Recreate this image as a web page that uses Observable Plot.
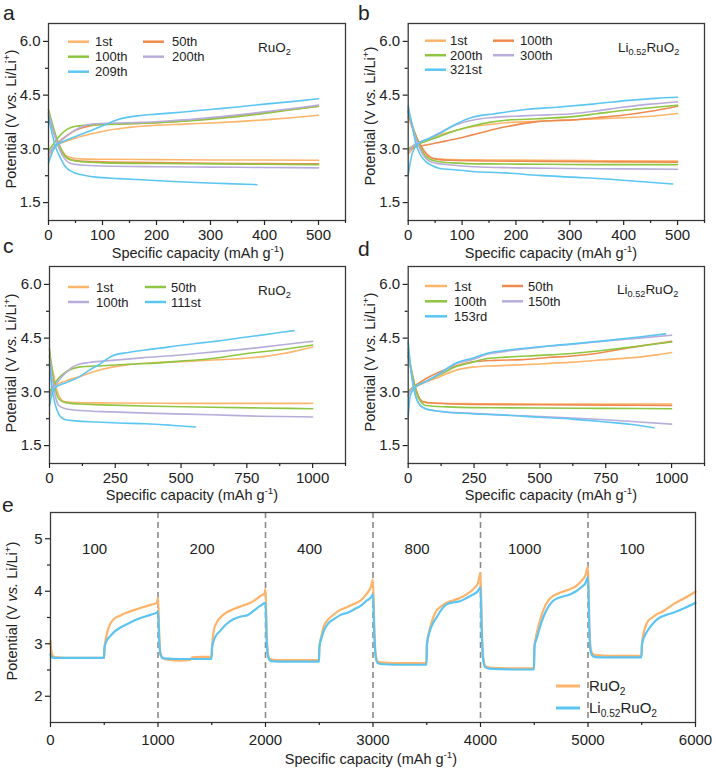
<!DOCTYPE html>
<html><head><meta charset="utf-8">
<script src="https://cdn.jsdelivr.net/npm/d3@7"></script>
<script src="https://cdn.jsdelivr.net/npm/@observablehq/plot@0.6"></script>
<style>
html,body{margin:0;padding:0;background:#fff;}
#fig{position:relative;width:716px;height:771px;overflow:hidden;background:#fff;}
#fig > svg{position:absolute;}
</style></head><body><div id="fig"></div>
<script>
// ---------- Panel a: RuO2, 500 mAh g-1 ----------
const aCycles = ["1st", "50th", "100th", "200th", "209th"];
const aCharge = [
  [[0,2.72],[8,2.95],[15,3.08],[30,3.2],[50,3.3],[80,3.42],[110,3.52],[150,3.6],[200,3.66],[250,3.69],[300,3.72],[350,3.76],[400,3.81],[450,3.87],[500,3.94]],
  [[0,2.85],[10,3.05],[20,3.2],[35,3.38],[50,3.52],[70,3.62],[100,3.68],[150,3.7],[200,3.73],[250,3.78],[300,3.85],[350,3.93],[400,4.01],[450,4.1],[500,4.19]],
  [[0,2.95],[10,3.15],[20,3.35],[35,3.55],[50,3.63],[70,3.66],[100,3.68],[150,3.7],[200,3.73],[250,3.77],[300,3.83],[350,3.9],[400,3.99],[450,4.09],[500,4.19]],
  [[0,2.85],[10,3.05],[25,3.25],[45,3.48],[65,3.64],[85,3.7],[120,3.72],[170,3.74],[220,3.78],[270,3.83],[320,3.9],[370,3.98],[420,4.07],[460,4.14],[500,4.22]],
  [[0,2.6],[13,3.08],[30,3.22],[56,3.38],[80,3.52],[106,3.68],[125,3.8],[145,3.88],[170,3.93],[200,3.97],[250,4.03],[300,4.1],[350,4.17],[400,4.25],[450,4.32],[500,4.4]]
];
const aDischarge = [
  [[0,4.0],[10,3.5],[20,3.1],[30,2.85],[40,2.76],[60,2.72],[100,2.71],[200,2.7],[300,2.69],[400,2.69],[500,2.68]],
  [[0,3.95],[10,3.45],[20,3.05],[30,2.8],[40,2.7],[60,2.66],[100,2.64],[200,2.62],[300,2.6],[400,2.59],[500,2.58]],
  [[0,4.1],[10,3.55],[20,3.1],[30,2.82],[40,2.7],[60,2.64],[100,2.61],[200,2.59],[300,2.58],[400,2.57],[500,2.56]],
  [[0,4.0],[10,3.45],[20,3.0],[30,2.72],[40,2.6],[60,2.55],[100,2.52],[200,2.5],[300,2.49],[400,2.48],[500,2.47]],
  [[0,3.9],[13,3.06],[22,2.75],[31,2.51],[40,2.39],[50,2.32],[70,2.25],[87,2.21],[130,2.17],[180,2.13],[230,2.09],[272,2.06],[330,2.03],[386,2.0]]
];

// ---------- Panel b: Li0.52RuO2, 500 mAh g-1 ----------
const bCycles = ["1st", "100th", "200th", "300th", "321st"];
const bCharge = [
  [[0,2.85],[8,3.0],[14,3.1],[30,3.2],[57,3.38],[90,3.52],[119,3.62],[150,3.68],[181,3.73],[240,3.77],[305,3.81],[370,3.85],[429,3.89],[470,3.94],[500,3.99]],
  [[0,2.95],[14,3.06],[30,3.1],[57,3.18],[90,3.28],[119,3.39],[160,3.55],[200,3.67],[240,3.76],[305,3.81],[350,3.87],[398,3.94],[450,4.05],[500,4.19]],
  [[0,3.0],[14,3.12],[30,3.2],[57,3.34],[90,3.52],[119,3.64],[150,3.74],[181,3.8],[240,3.84],[305,3.9],[350,3.98],[398,4.07],[450,4.15],[500,4.22]],
  [[0,2.9],[10,3.1],[20,3.18],[40,3.3],[57,3.44],[90,3.68],[119,3.8],[160,3.88],[212,3.92],[260,3.95],[305,3.98],[350,4.06],[398,4.16],[450,4.25],[500,4.31]],
  [[0,2.28],[8,2.9],[20,3.16],[40,3.3],[57,3.42],[90,3.7],[119,3.88],[160,3.98],[218,4.1],[280,4.17],[342,4.25],[416,4.36],[460,4.41],[500,4.44]]
];
const bDischarge = [
  [[0,3.9],[15,3.3],[32,2.85],[51,2.72],[80,2.7],[150,2.69],[250,2.68],[350,2.67],[500,2.66]],
  [[0,4.0],[15,3.35],[32,2.9],[50,2.72],[80,2.68],[150,2.66],[250,2.65],[350,2.64],[500,2.63]],
  [[0,4.05],[15,3.3],[32,2.8],[50,2.66],[80,2.61],[150,2.58],[250,2.57],[350,2.56],[500,2.56]],
  [[0,4.1],[12,3.4],[25,2.9],[45,2.62],[80,2.55],[120,2.5],[200,2.47],[300,2.45],[400,2.44],[500,2.43]],
  [[0,4.19],[8,3.6],[14,3.16],[22,2.85],[32,2.65],[45,2.53],[57,2.46],[90,2.41],[119,2.37],[180,2.33],[243,2.26],[305,2.21],[367,2.16],[430,2.09],[491,2.02]]
];

// ---------- Panel c: RuO2, 1000 mAh g-1 ----------
const cCycles = ["1st", "50th", "100th", "111st"];
const cCharge = [
  [[0,2.85],[10,3.05],[23,3.17],[60,3.3],[112,3.42],[170,3.57],[238,3.69],[300,3.76],[365,3.8],[450,3.83],[555,3.86],[650,3.9],[745,3.94],[820,3.99],[872,4.05],[930,4.13],[1000,4.25]],
  [[0,3.0],[10,3.12],[23,3.27],[40,3.42],[61,3.55],[85,3.64],[112,3.69],[200,3.73],[300,3.77],[365,3.79],[500,3.86],[618,3.93],[750,4.07],[870,4.17],[1000,4.31]],
  [[0,2.9],[15,3.1],[35,3.32],[60,3.52],[85,3.68],[112,3.77],[150,3.82],[238,3.88],[350,3.95],[500,4.03],[618,4.11],[750,4.2],[870,4.3],[1000,4.41]],
  [[0,2.62],[10,2.95],[23,3.13],[60,3.25],[112,3.41],[150,3.6],[188,3.76],[238,4.0],[300,4.1],[365,4.17],[450,4.25],[555,4.35],[618,4.4],[750,4.53],[850,4.63],[929,4.71]]
];
const cDischarge = [
  [[0,4.0],[15,3.5],[30,3.0],[45,2.78],[61,2.72],[100,2.7],[238,2.69],[500,2.68],[750,2.68],[1000,2.68]],
  [[0,4.2],[12,3.5],[25,3.0],[35,2.81],[61,2.7],[120,2.66],[238,2.63],[400,2.6],[618,2.57],[800,2.55],[1000,2.53]],
  [[0,4.0],[12,3.3],[25,2.8],[35,2.62],[61,2.53],[120,2.48],[238,2.44],[400,2.4],[618,2.36],[800,2.32],[1000,2.3]],
  [[0,3.8],[10,3.1],[20,2.7],[35,2.38],[50,2.26],[61,2.22],[100,2.19],[175,2.16],[265,2.13],[365,2.11],[460,2.07],[555,2.02]]
];

// ---------- Panel d: Li0.52RuO2, 1000 mAh g-1 ----------
const dCycles = ["1st", "50th", "100th", "150th", "153rd"];
const dCharge = [
  [[0,2.9],[10,3.05],[28,3.14],[70,3.28],[116,3.41],[180,3.6],[243,3.69],[300,3.72],[370,3.74],[500,3.78],[623,3.83],[750,3.9],[876,3.97],[950,4.04],[1000,4.1]],
  [[0,3.0],[10,3.08],[28,3.18],[70,3.38],[116,3.55],[180,3.72],[243,3.83],[330,3.88],[433,3.9],[530,3.96],[623,4.0],[720,4.08],[813,4.2],[900,4.3],[1000,4.41]],
  [[0,3.0],[10,3.08],[28,3.16],[70,3.3],[116,3.46],[180,3.7],[243,3.83],[300,3.93],[370,3.97],[500,4.02],[623,4.07],[720,4.14],[813,4.22],[900,4.3],[1000,4.39]],
  [[0,2.9],[10,3.05],[28,3.14],[70,3.3],[116,3.48],[180,3.78],[243,3.9],[300,4.05],[370,4.13],[500,4.25],[623,4.33],[750,4.42],[876,4.5],[1000,4.58]],
  [[0,2.3],[8,2.9],[28,3.14],[70,3.3],[116,3.5],[180,3.8],[243,3.94],[300,4.08],[370,4.16],[500,4.26],[623,4.34],[750,4.43],[876,4.53],[977,4.62]]
];
const dDischarge = [
  [[0,4.0],[15,3.5],[30,3.05],[53,2.72],[100,2.69],[250,2.67],[500,2.66],[750,2.66],[1000,2.66]],
  [[0,4.0],[15,3.5],[30,3.05],[53,2.74],[100,2.68],[250,2.65],[500,2.64],[750,2.63],[1000,2.62]],
  [[0,4.1],[15,3.5],[30,3.0],[50,2.7],[66,2.62],[150,2.58],[243,2.56],[500,2.55],[750,2.54],[1000,2.53]],
  [[0,4.2],[15,3.4],[30,2.85],[45,2.62],[66,2.53],[116,2.46],[243,2.4],[370,2.35],[500,2.31],[623,2.27],[750,2.22],[876,2.16],[1000,2.1]],
  [[0,4.4],[12,3.5],[25,2.95],[40,2.68],[66,2.53],[116,2.46],[243,2.39],[370,2.35],[500,2.29],[623,2.24],[750,2.16],[850,2.09],[933,2.0]]
];

// ---------- Panel e: rate capability ----------
const eSeries = ["RuO2", "Li0.52RuO2"];
const eRuO2 = [[0,3.05],[8,2.85],[25,2.76],[60,2.74],[200,2.73],[350,2.73],[498,2.73],[502,2.9],[520,3.15],[545,3.33],[580,3.45],[651,3.54],[720,3.6],[775,3.64],[850,3.69],[930,3.74],[980,3.77],[992,3.8],[1000,3.88],[1010,3.3],[1020,2.85],[1040,2.74],[1100,2.69],[1200,2.68],[1300,2.69],[1320,2.74],[1400,2.75],[1497,2.75],[1502,2.93],[1519,3.25],[1550,3.42],[1581,3.5],[1640,3.6],[1705,3.66],[1780,3.72],[1860,3.78],[1920,3.86],[1953,3.91],[1990,3.96],[2000,4.04],[2010,3.3],[2020,2.85],[2040,2.71],[2100,2.69],[2300,2.69],[2497,2.69],[2502,2.95],[2520,3.15],[2545,3.35],[2574,3.44],[2636,3.56],[2700,3.65],[2760,3.7],[2847,3.78],[2884,3.82],[2940,3.95],[2980,4.08],[3000,4.22],[3012,3.3],[3025,2.8],[3045,2.66],[3100,2.64],[3300,2.63],[3497,2.63],[3502,3.0],[3530,3.3],[3560,3.5],[3591,3.63],[3640,3.72],[3684,3.78],[3750,3.83],[3808,3.87],[3870,3.94],[3932,4.04],[3975,4.15],[4000,4.35],[4012,3.3],[4025,2.75],[4045,2.57],[4100,2.54],[4300,2.53],[4497,2.53],[4502,2.95],[4521,3.18],[4550,3.42],[4583,3.63],[4630,3.82],[4676,3.91],[4750,3.98],[4831,4.04],[4890,4.1],[4940,4.2],[4975,4.3],[5000,4.47],[5012,3.4],[5025,2.9],[5048,2.8],[5100,2.78],[5300,2.77],[5497,2.77],[5502,3.0],[5530,3.3],[5560,3.44],[5600,3.5],[5637,3.56],[5700,3.62],[5792,3.75],[5900,3.87],[6000,3.99]];
const eLiRuO2 = [[0,2.8],[10,2.75],[30,2.73],[200,2.73],[498,2.73],[502,2.92],[520,3.05],[558,3.15],[600,3.24],[651,3.31],[720,3.38],[775,3.44],[850,3.5],[930,3.55],[992,3.6],[1000,3.62],[1010,3.1],[1025,2.78],[1050,2.72],[1200,2.71],[1400,2.71],[1497,2.71],[1505,2.95],[1530,3.12],[1581,3.25],[1640,3.38],[1705,3.47],[1770,3.52],[1829,3.54],[1891,3.63],[1950,3.72],[2000,3.78],[2010,3.1],[2025,2.75],[2050,2.67],[2200,2.66],[2497,2.66],[2502,2.95],[2520,3.1],[2543,3.25],[2590,3.4],[2636,3.47],[2700,3.55],[2760,3.59],[2847,3.68],[2884,3.72],[2940,3.82],[2980,3.88],[3000,3.94],[3012,3.2],[3025,2.75],[3045,2.63],[3100,2.61],[3300,2.6],[3497,2.6],[3502,2.99],[3530,3.25],[3560,3.4],[3591,3.5],[3640,3.66],[3684,3.75],[3750,3.79],[3808,3.81],[3870,3.87],[3932,3.94],[3975,4.0],[4000,4.08],[4012,3.2],[4025,2.7],[4045,2.55],[4100,2.52],[4300,2.51],[4497,2.51],[4502,2.95],[4521,3.09],[4550,3.3],[4583,3.5],[4630,3.7],[4676,3.82],[4750,3.89],[4831,3.94],[4890,4.0],[4940,4.08],[4975,4.15],[5000,4.27],[5012,3.3],[5025,2.85],[5048,2.76],[5100,2.74],[5300,2.74],[5497,2.74],[5502,2.99],[5540,3.2],[5575,3.31],[5620,3.42],[5668,3.5],[5730,3.55],[5792,3.59],[5900,3.68],[6000,3.78]];
const eRates = ["100", "200", "400", "800", "1000", "100"];
const eDividers = [1000, 2000, 3000, 4000, 5000];

// ---------- tick labels ----------
const xTicks500 = [0, 100, 200, 300, 400, 500];
const xMinor500 = [50, 150, 250, 350, 450, 550];
const xTicks1000 = [0, 250, 500, 750, 1000];
const xMinor1000 = [125, 375, 625, 875, 1125];
const yTicksV = [1.5, 3.0, 4.5, 6.0];
const yMinorV = [2.25, 3.75, 5.25];
const xTicksE = [0, 1000, 2000, 3000, 4000, 5000, 6000];
const xMinorE = [500, 1500, 2500, 3500, 4500, 5500];
const yTicksE = [2, 3, 4, 5];
const yMinorE = [2.5, 3.5, 4.5];

// ---------- styles ----------
const C = {light: "#FDB56C", dark: "#EE8A4F", green: "#8EC641", lav: "#B8ADDA", blue: "#5CC6F2"};
const FONT = "'Liberation Sans', Arial, Helvetica, sans-serif";
const INK = "#222";
const FRAME = "#3a3a3a";
const fig = document.getElementById("fig");

function rowsOf(cycles, charge, discharge) {
  const out = [];
  cycles.forEach((c, i) => {
    charge[i].forEach(([x, y]) => out.push({x, y, cycle: c, key: c + "-charge"}));
    discharge[i].forEach(([x, y]) => out.push({x, y, cycle: c, key: c + "-discharge"}));
  });
  return out;
}

function place(svg, left, top) {
  svg.style.left = left + "px";
  svg.style.top = top + "px";
  fig.appendChild(svg);
}

function cyclePanel({cycles, colors, charge, discharge, xMax, xMajor, xMinor, left, top, mLeft, mRight}) {
  const data = rowsOf(cycles, charge, discharge);
  const svg = Plot.plot({
    width: 358, height: 245,
    marginLeft: mLeft, marginRight: mRight, marginTop: 23, marginBottom: 25,
    style: {fontFamily: FONT, fontSize: "15px", color: INK, background: "transparent", overflow: "visible"},
    x: {domain: [0, xMax]},
    y: {domain: [1, 6.5]},
    color: {domain: cycles, range: colors},
    marks: [
      Plot.line(data, {x: "x", y: "y", z: "key", stroke: "cycle", strokeWidth: 1.6, curve: "monotone-x"}),
      Plot.frame({stroke: FRAME, strokeWidth: 1.3}),
      Plot.axisX({ticks: xMajor, tickSize: 5, tickPadding: 4, tickFormat: d3.format("d"), label: null, strokeWidth: 1.2}),
      Plot.axisX({ticks: xMinor, tickSize: 3, tickFormat: () => "", label: null, strokeWidth: 1.2}),
      Plot.axisY({ticks: yTicksV, tickSize: 5, tickPadding: 3, tickFormat: d3.format(".1f"), label: null, strokeWidth: 1.2}),
      Plot.axisY({ticks: yMinorV, tickSize: 3, tickFormat: () => "", label: null, strokeWidth: 1.2})
    ]
  });
  place(svg, left, top);
}

cyclePanel({cycles: aCycles, colors: [C.light, C.dark, C.green, C.lav, C.blue], charge: aCharge, discharge: aDischarge,
  xMax: 550, xMajor: xTicks500, xMinor: xMinor500, left: 0, top: 0, mLeft: 48, mRight: 13});
cyclePanel({cycles: bCycles, colors: [C.light, C.dark, C.green, C.lav, C.blue], charge: bCharge, discharge: bDischarge,
  xMax: 550, xMajor: xTicks500, xMinor: xMinor500, left: 358, top: 0, mLeft: 49.7, mRight: 12});
cyclePanel({cycles: cCycles, colors: [C.light, C.green, C.lav, C.blue], charge: cCharge, discharge: cDischarge,
  xMax: 1125, xMajor: xTicks1000, xMinor: xMinor1000, left: 0, top: 243, mLeft: 49, mRight: 13});
cyclePanel({cycles: dCycles, colors: [C.light, C.dark, C.green, C.lav, C.blue], charge: dCharge, discharge: dDischarge,
  xMax: 1125, xMajor: xTicks1000, xMinor: xMinor1000, left: 358, top: 243, mLeft: 49.7, mRight: 12});

// Panel e
const eData = [];
[eRuO2, eLiRuO2].forEach((arr, i) => arr.forEach(([x, y]) => eData.push({x, y, series: eSeries[i]})));
const eSvg = Plot.plot({
  width: 716, height: 260,
  marginLeft: 50, marginRight: 21, marginTop: 24, marginBottom: 26,
  style: {fontFamily: FONT, fontSize: "15px", color: INK, background: "transparent", overflow: "visible"},
  x: {domain: [0, 6000]},
  y: {domain: [1.5, 5.5]},
  color: {domain: eSeries, range: ["#FDB36A", "#5BC4F1"]},
  marks: [
    Plot.ruleX(eDividers, {stroke: "#8a8a8a", strokeWidth: 1.6, strokeDasharray: "6,4"}),
    Plot.line(eData, {x: "x", y: "y", z: "series", stroke: "series", strokeWidth: 2.2, curve: "monotone-x"}),
    Plot.text(eRates, {x: (d, i) => i * 1000 + 410, frameAnchor: "top", dy: 31, text: d => d, fill: INK, fontSize: 15}),
    Plot.frame({stroke: FRAME, strokeWidth: 1.3}),
    Plot.axisX({ticks: xTicksE, tickSize: 5, tickPadding: 7, tickFormat: d3.format("d"), label: null, strokeWidth: 1.2}),
    Plot.axisX({ticks: xMinorE, tickSize: 3, tickFormat: () => "", label: null, strokeWidth: 1.2}),
    Plot.axisY({ticks: yTicksE, tickSize: 5, tickPadding: 3, tickFormat: d3.format("d"), label: null, strokeWidth: 1.2}),
    Plot.axisY({ticks: yMinorE, tickSize: 3, tickFormat: () => "", label: null, strokeWidth: 1.2})
  ]
});
place(eSvg, 0, 488);

// ---------- text overlay: panel letters, axis titles, legends ----------
const ov = d3.select(fig).append("svg")
  .attr("width", 716).attr("height", 771)
  .style("position", "absolute").style("left", "0px").style("top", "0px")
  .style("pointer-events", "none")
  .attr("font-family", FONT).attr("fill", INK);

function rich(x, y, markup, {size = 14.5, anchor = "start", rotate = false} = {}) {
  const t = ov.append("text").attr("x", x).attr("y", y).attr("font-size", size).attr("text-anchor", anchor);
  if (rotate) t.attr("transform", `rotate(-90 ${x} ${y})`);
  const re = /<(sup|sub|i)>(.*?)<\/\1>|([^<]+)/g;
  let m, cur = 0;
  while ((m = re.exec(markup))) {
    let target = 0, txt, small = false, italic = false;
    if (m[3] !== undefined) { txt = m[3]; }
    else if (m[1] === "i") { txt = m[2]; italic = true; }
    else { txt = m[2]; small = true; target = m[1] === "sup" ? -0.38 * size : 0.25 * size; }
    const s = t.append("tspan").text(txt);
    if (target - cur !== 0) s.attr("dy", target - cur);
    cur = target;
    if (small) s.attr("font-size", size * 0.68);
    if (italic) s.attr("font-style", "italic");
  }
  return t;
}

// panel letters
[["a", 3, 20], ["b", 358, 20], ["c", 3, 253], ["d", 358, 256], ["e", 2, 512]]
  .forEach(([l, x, y]) => rich(x, y, l, {size: 21}));

// axis titles
const xTitle = "Specific capacity (mAh g<sup>-1</sup>)";
const yTitle = "Potential (V <i>vs.</i> Li/Li<sup>+</sup>)";
rich(198, 258, xTitle, {anchor: "middle"});
rich(551, 258, xTitle, {anchor: "middle"});
rich(192, 499.5, xTitle, {anchor: "middle"});
rich(551, 499.5, xTitle, {anchor: "middle"});
rich(371, 764, xTitle, {anchor: "middle"});
rich(15.5, 119, yTitle, {anchor: "middle", rotate: true});
rich(374.5, 116, yTitle, {anchor: "middle", rotate: true});
rich(15.5, 363, yTitle, {anchor: "middle", rotate: true});
rich(374.5, 362, yTitle, {anchor: "middle", rotate: true});
rich(17, 611, yTitle, {anchor: "middle", rotate: true});

// panel material labels
rich(258, 51.5, "RuO<sub>2</sub>", {size: 13.5});
rich(618, 51.5, "Li<sub>0.52</sub>RuO<sub>2</sub>", {size: 13.5});
rich(258, 295, "RuO<sub>2</sub>", {size: 13.5});
rich(617, 293.5, "Li<sub>0.52</sub>RuO<sub>2</sub>", {size: 13.5});

// legends (two columns of swatch + label)
function legend(cycles, colors, cols, rowsY) {
  cycles.forEach((c, i) => {
    const col = cols[i % 2], y = rowsY[Math.floor(i / 2)];
    ov.append("line").attr("x1", col[0]).attr("x2", col[1]).attr("y1", y).attr("y2", y)
      .attr("stroke", colors[i]).attr("stroke-width", 2.5);
    rich(col[2], y + 4.7, c, {size: 13});
  });
}
legend(aCycles, [C.light, C.dark, C.green, C.lav, C.blue], [[68, 89, 95], [143, 164, 172]], [41.7, 56.7, 71.7]);
legend(bCycles, [C.light, C.dark, C.green, C.lav, C.blue], [[425, 446, 450], [493, 514, 520]], [40.7, 55.2, 69.7]);
legend(cCycles, [C.light, C.green, C.lav, C.blue], [[68, 89, 96], [145, 166, 171]], [287, 302]);
legend(dCycles, [C.light, C.dark, C.green, C.lav, C.blue], [[425, 447, 454], [502, 523, 528]], [286, 301.3, 316.3]);

// panel e legend
[["RuO<sub>2</sub>", "#FDB36A", 686], ["Li<sub>0.52</sub>RuO<sub>2</sub>", "#5BC4F1", 708]].forEach(([t, col, y]) => {
  ov.append("line").attr("x1", 556).attr("x2", 580).attr("y1", y).attr("y2", y).attr("stroke", col).attr("stroke-width", 3);
  rich(589, y + 5.4, t, {size: 15});
});
</script></body></html>
